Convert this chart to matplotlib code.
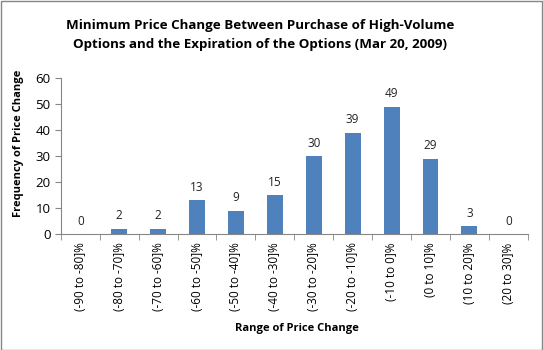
import numpy as np
import matplotlib
matplotlib.use("Agg")
import matplotlib.pyplot as plt

categories = ["(-90 to -80]%", "(-80 to -70]%", "(-70 to -60]%", "(-60 to -50]%",
              "(-50 to -40]%", "(-40 to -30]%", "(-30 to -20]%", "(-20 to -10]%",
              "(-10 to 0]%", "(0 to 10]%", "(10 to 20]%", "(20 to 30]%"]
counts = [0, 2, 2, 13, 9, 15, 30, 39, 49, 29, 3, 0]
yticks = [0, 10, 20, 30, 40, 50, 60]

plt.rcParams['font.family'] = ['Open Sans', 'DejaVu Sans']

fig = plt.figure(figsize=(5.43, 3.5), dpi=100)
ax = fig.add_axes([0.112, 0.331, 0.860, 0.446])

x = np.arange(len(categories))
bars = ax.bar(x, counts, width=0.41, color="#4F81BD")
for xi, c in zip(x, counts):
    ax.text(xi, c + 2.5, str(c), ha="center", va="bottom", fontsize=8.5, color="#222222")

ax.set_xlim(-0.5, len(categories) - 0.5)
ax.set_ylim(0, 60)
ax.set_yticks(yticks)
ax.set_xticks(x)
ax.set_xticklabels(categories, rotation=90, fontsize=8.5)
ax.tick_params(axis="x", length=0, pad=6)
ax.set_xticks(np.arange(len(categories) + 1) - 0.5, minor=True)
ax.tick_params(axis="x", which="minor", length=4, color="#868686")
ax.tick_params(axis="y", labelsize=9.5, length=4, color="#868686")

for s in ["top", "right"]:
    ax.spines[s].set_visible(False)
for s in ["left", "bottom"]:
    ax.spines[s].set_color("#868686")

ax.set_ylabel("Frequency of Price Change", fontsize=8, fontweight="bold")
ax.yaxis.set_label_coords(-0.078, 0.583)
fig.text(0.547, 0.054, "Range of Price Change", ha="center", fontsize=8, fontweight="bold")
fig.text(0.479, 0.90, "Minimum Price Change Between Purchase of High-Volume\nOptions and the Expiration of the Options (Mar 20, 2009)",
         ha="center", va="center", fontsize=9.6, fontweight="bold", linespacing=1.6)

fig.patches.append(plt.Rectangle((0.001, 0.001), 0.997, 0.997, transform=fig.transFigure,
                                 fill=False, edgecolor="#868686", linewidth=1))

fig.savefig("out.png", dpi=100)
